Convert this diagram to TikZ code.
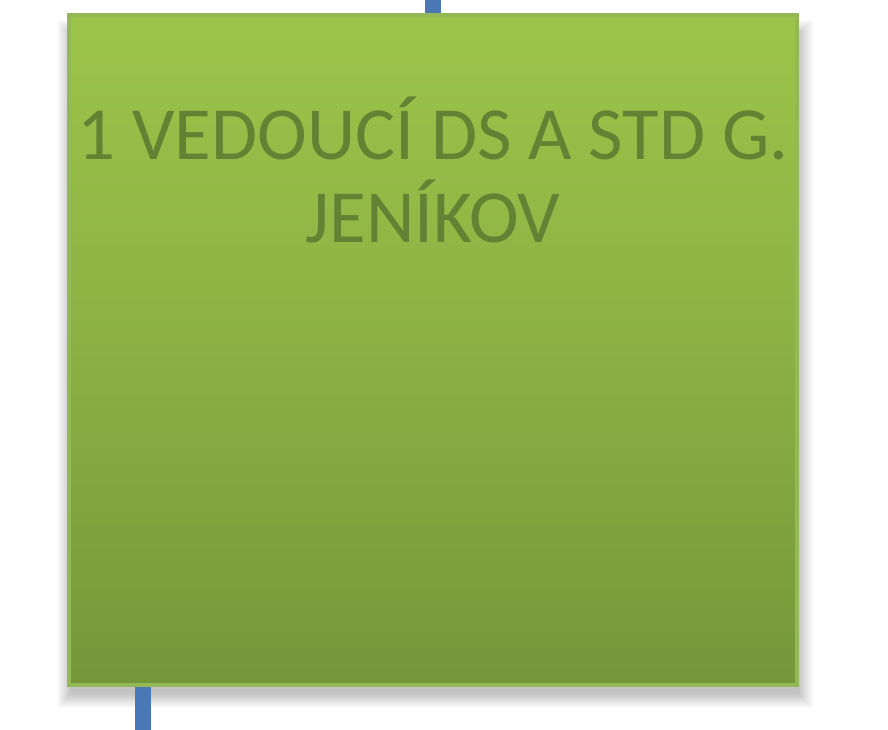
\documentclass[tikz,border=0pt]{standalone}
\usepackage{fontspec}
\setmainfont{Carlito}
\begin{document}
\begin{tikzpicture}[x=1pt,y=1pt,
  boxfill/.style={shade, top color=boxtop, bottom color=boxbot, middle color=boxmid, draw=boxedge, line width=4pt},
  stub/.style={fill=stubblue, draw=none},
  lbl/.style={text=txtgreen, font=\fontsize{75}{83}\selectfont, align=center, inner sep=0pt}]
\definecolor{boxtop}{HTML}{9DC44A}
\definecolor{boxmid}{HTML}{8CB043}
\definecolor{boxbot}{HTML}{76963A}
\definecolor{boxedge}{HTML}{93B855}
\definecolor{stubblue}{HTML}{4A78B4}
\definecolor{txtgreen}{HTML}{648233}
\useasboundingbox (0,0) rectangle (888,730);
\fill[white] (0,0) rectangle (888,730);
% shadow
\foreach \r in {0,1,...,14}{
  \fill[black, opacity=0.015] (71-\r, 36-\r) rectangle (799+\r, 708+\r-12);
}
% connector stubs
\coordinate (topend) at (433,730);
\coordinate (botend) at (142.5,0);
\node[boxfill, minimum width=728pt, minimum height=670pt, inner sep=0pt] (box) at (433,380) {};
\fill[stubblue] ([xshift=-8pt]box.north -| topend) rectangle ([xshift=8pt]topend);
\fill[stubblue] ([xshift=-8pt]botend) rectangle ([xshift=8pt]box.south -| botend);
\node[lbl, anchor=north] (title) at (433,633) {1 VEDOUCÍ DS A STD G.\\JENÍKOV};
\end{tikzpicture}
\end{document}
